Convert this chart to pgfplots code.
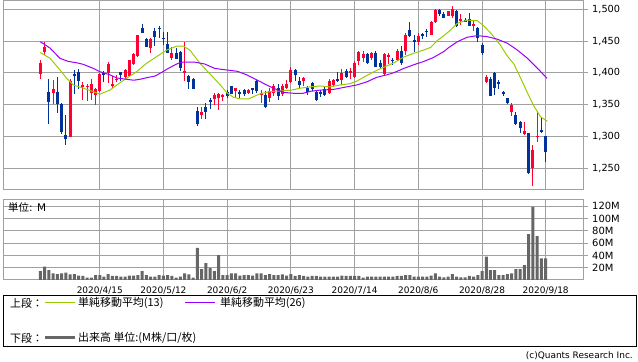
\documentclass[border=0pt]{standalone}
\usepackage{fontspec}
\setmainfont{DejaVu Sans}
\newfontfamily\jp{Noto Sans CJK JP}
\usepackage{pgfplots}
\usepackage{pgfplotstable}
\pgfplotsset{compat=1.18}
\definecolor{upc}{HTML}{FF0033}
\definecolor{dnc}{HTML}{003399}
\definecolor{maA}{HTML}{99CC00}
\definecolor{maB}{HTML}{9900FF}
\definecolor{gridc}{HTML}{A0A0A0}
\definecolor{volc}{HTML}{666666}

\pgfplotstableread{
i o h l c
0 1398 1420 1391 1416
1 1433 1448 1428 1440
2 1370 1390 1320 1355
3 1368 1389 1351 1375
4 1370 1393 1337 1351
5 1351 1352 1304 1307
6 1302 1334 1287 1296
7 1300 1390 1299 1387
8 1398 1405 1367 1395
9 1401 1406 1374 1388
10 1378 1386 1357 1381
11 1378 1383 1356 1380
12 1368 1390 1358 1383
13 1366 1377 1349 1374
14 1371 1400 1370 1399
15 1400 1403 1385 1398
16 1400 1417 1384 1414
17 1380 1395 1377 1383
18 1389 1397 1385 1391
19 1401 1402 1387 1397
20 1394 1406 1390 1405
21 1395 1421 1393 1420
22 1414 1431 1412 1430
23 1426 1459 1425 1459
24 1471 1477 1462 1463
25 1454 1455 1440 1441
26 1439 1455 1432 1454
27 1466 1470 1443 1456
28 1471 1473 1455 1470
29 1455 1465 1444 1454
30 1445 1464 1431 1432
31 1423 1441 1420 1432
32 1431 1439 1422 1422
33 1433 1435 1403 1407
34 1401 1449 1388 1403
35 1395 1396 1375 1386
36 1391 1392 1375 1375
37 1340 1346 1316 1319
38 1334 1346 1327 1339
39 1347 1352 1328 1339
40 1357 1361 1344 1355
41 1359 1368 1350 1365
42 1360 1368 1342 1367
43 1363 1367 1356 1366
44 1370 1373 1361 1363
45 1380 1380 1367 1367
46 1371 1377 1360 1376
47 1370 1373 1360 1367
48 1373 1375 1364 1367
49 1368 1375 1367 1373
50 1376 1376 1367 1373
51 1388 1389 1369 1372
52 1365 1373 1353 1369
53 1365 1371 1345 1346
54 1361 1377 1355 1372
55 1369 1382 1363 1380
56 1376 1383 1358 1363
57 1367 1383 1364 1380
58 1376 1389 1374 1382
59 1386 1410 1384 1404
60 1404 1406 1388 1396
61 1387 1393 1374 1381
62 1387 1393 1380 1392
63 1376 1380 1366 1370
64 1384 1386 1371 1374
65 1370 1373 1356 1358
66 1370 1373 1362 1367
67 1374 1379 1364 1365
68 1368 1391 1367 1388
69 1381 1390 1378 1389
70 1390 1401 1386 1387
71 1389 1406 1381 1400
72 1403 1406 1392 1393
73 1401 1407 1391 1403
74 1393 1418 1392 1416
75 1418 1435 1413 1433
76 1424 1434 1417 1430
77 1429 1432 1414 1415
78 1424 1433 1421 1432
79 1432 1435 1409 1410
80 1416 1420 1406 1410
81 1398 1432 1397 1430
82 1425 1432 1414 1428
83 1421 1424 1413 1419
84 1420 1438 1419 1435
85 1435 1442 1413 1416
86 1435 1462 1428 1460
87 1467 1480 1457 1458
88 1451 1460 1433 1449
89 1448 1462 1444 1458
90 1461 1463 1453 1458
91 1466 1469 1457 1465
92 1460 1482 1459 1480
93 1480 1500 1479 1499
94 1499 1500 1490 1493
95 1492 1496 1487 1487
96 1490 1498 1489 1497
97 1490 1505 1487 1501
98 1497 1499 1472 1473
99 1482 1493 1475 1484
100 1483 1487 1480 1481
101 1485 1494 1474 1474
102 1475 1482 1466 1476
103 1471 1472 1448 1455
104 1444 1447 1428 1432
105 1385 1397 1384 1394
106 1391 1394 1363 1364
107 1400 1401 1366 1376
108 1386 1389 1374 1383
109 1370 1372 1363 1367
110 1360 1361 1351 1353
111 1339 1352 1332 1350
112 1334 1338 1318 1320
113 1323 1324 1306 1313
114 1304 1323 1303 1308
115 1305 1306 1241 1242
116 1250 1286 1222 1279
117 1300 1340 1292 1301
118 1310 1329 1305 1307
119 1301 1301 1260 1276
}\candles

\pgfplotstableread{
i v
0 14.6
1 21.6
2 16.2
3 10.8
4 9.7
5 10.8
6 11.9
7 9.2
8 9.7
9 7
10 6.5
11 3.8
12 3.8
13 8.1
14 8.1
15 5.4
16 9.7
17 6.5
18 6.5
19 5.4
20 5.4
21 7
22 7
23 8.1
24 14.6
25 8.1
26 5.4
27 5.4
28 8.1
29 7
30 8.1
31 6.5
32 3.8
33 5.4
34 10.8
35 9.2
36 3.8
37 52.4
38 17.8
39 27.5
40 19.4
41 14.6
42 40.5
43 8.1
44 8.1
45 10.8
46 10.8
47 7
48 8.1
49 8.1
50 7
51 10.8
52 10.8
53 8.1
54 9.7
55 8.1
56 8.1
57 9.2
58 7
59 9.7
60 6.5
61 8.1
62 6.5
63 5.4
64 6.5
65 6.5
66 5.4
67 5.4
68 5.4
69 5.4
70 5.4
71 7
72 6.5
73 6.5
74 6.5
75 6.5
76 3.8
77 5.4
78 5.4
79 5.4
80 5.4
81 5.4
82 5.4
83 5.4
84 6.5
85 6.5
86 8.1
87 8.1
88 5.4
89 5.4
90 5.4
91 5.4
92 7
93 10.8
94 5.4
95 4.3
96 5.4
97 9.7
98 5.4
99 4.3
100 4.3
101 6.5
102 5.4
103 8.1
104 14.6
105 37.8
106 16.2
107 16.2
108 8.1
109 8.1
110 9.7
111 10.8
112 17.8
113 17.8
114 24.3
115 74.5
116 118.8
117 71.3
118 35
119 35
}\volume

\pgfplotsset{
  panel/.style={
    scale only axis, width=580bp,
    xmin=-8.78, xmax=127.78,
    axis line style={draw=gridc, line width=1bp},
    xmajorgrids, ymajorgrids,
    grid style={draw=gridc, line width=1bp},
    xtick={14,29,44,59,74,89,104,119},
    ytick pos=right, yticklabel pos=right,
    tick align=outside,
    major tick length=5bp,
    y tick style={draw=gridc, line width=1bp},
    x tick style={draw=none},
    /pgf/number format/assume math mode=true,
    yticklabel style={anchor=west, inner sep=0pt, xshift=4bp},
  }
}

\begin{document}
\begin{tikzpicture}
\useasboundingbox (0bp,0bp) rectangle (638bp,362bp);

% price panel
\begin{axis}[panel, at={(3bp,172bp)}, anchor=south west, height=189bp,
  ymin=1216, ymax=1513,
  ytick={1250,1300,1350,1400,1450,1500},
  xticklabels={},
  yticklabel style={font=\fontsize{9.8}{11}\selectfont},
  /pgf/number format/.cd, 1000 sep={,}]
  % wicks
  \addplot[draw=none, forget plot,
    restrict expr to domain={\thisrow{c}-\thisrow{o}}{0:1000},
    error bars/.cd, y dir=both, y explicit, error mark=none,
    error bar style={draw=upc, line width=1bp}]
    table[x=i, y expr={(\thisrow{h}+\thisrow{l})/2}, y error expr={(\thisrow{h}-\thisrow{l})/2}] {\candles};
  \addplot[draw=none, forget plot,
    restrict expr to domain={\thisrow{c}-\thisrow{o}}{-1000:-0.01},
    error bars/.cd, y dir=both, y explicit, error mark=none,
    error bar style={draw=dnc, line width=1bp}]
    table[x=i, y expr={(\thisrow{h}+\thisrow{l})/2}, y error expr={(\thisrow{h}-\thisrow{l})/2}] {\candles};
  % bodies
  \addplot[draw=none, forget plot,
    restrict expr to domain={\thisrow{c}-\thisrow{o}}{0:1000},
    error bars/.cd, y dir=both, y explicit, error mark=none,
    error bar style={draw=upc, line width=3bp}]
    table[x=i, y expr={(\thisrow{o}+\thisrow{c})/2}, y error expr={max(abs(\thisrow{c}-\thisrow{o})/2,0.8)}] {\candles};
  \addplot[draw=none, forget plot,
    restrict expr to domain={\thisrow{c}-\thisrow{o}}{-1000:-0.01},
    error bars/.cd, y dir=both, y explicit, error mark=none,
    error bar style={draw=dnc, line width=3bp}]
    table[x=i, y expr={(\thisrow{o}+\thisrow{c})/2}, y error expr={max(abs(\thisrow{c}-\thisrow{o})/2,0.8)}] {\candles};
  % SMA 13
  \addplot[maA, line width=1bp] coordinates {
  (0,1432) (2.3,1423) (4.6,1405) (6.2,1391.5) (7.8,1381) (10.1,1376) (12.5,1370.6) (14,1366.5)
  (16.4,1373) (18,1381) (20.3,1391.5) (22.7,1402) (25,1415) (27.4,1425.6) (29.8,1436) (32.1,1442)
  (33.7,1442) (35.2,1436) (36.8,1422) (37.6,1415) (40,1398) (42.4,1381) (43.9,1369) (45.4,1362)
  (47,1359) (49,1359) (50.2,1362.7) (51.7,1367) (54.1,1370.6) (56.4,1371.6) (58.8,1372.5) (61.2,1376)
  (63.5,1378) (65.9,1379.5) (68.2,1378) (70.6,1381) (72.9,1383) (74.5,1387) (76.9,1396) (79.2,1404)
  (81.6,1411) (83.3,1416) (85.6,1425) (88,1431) (90.3,1436) (91.9,1440) (93.5,1451) (95.1,1459)
  (96.2,1465) (98.2,1478) (100.5,1483) (102.9,1482) (104.4,1474) (106,1463) (108.3,1444) (109.9,1427)
  (111.5,1414) (113.1,1392) (114.6,1370) (116.2,1348) (117.8,1331) (119.4,1324)};
  % SMA 26
  \addplot[maB, line width=1bp] coordinates {
  (0,1449) (2.3,1439) (4.6,1423) (6.6,1418) (8.5,1416) (10.1,1413.5) (12.5,1407) (14,1402)
  (16.4,1397) (18,1392) (20.3,1390) (22,1388.5) (23.5,1390) (25.4,1393) (27,1395) (28.9,1402)
  (30.1,1407) (32.4,1415) (33.6,1417) (36.3,1417) (38.7,1414) (41.1,1407) (43.4,1405) (46.4,1402.5)
  (48.6,1397) (51,1389) (53.3,1381) (54.9,1376) (57.2,1369.5) (59.6,1368) (61.9,1368) (63.5,1371)
  (65.9,1373) (69,1374) (72.1,1378) (74.5,1381) (76.9,1386) (79.2,1393) (81.6,1397) (83.1,1400)
  (85.6,1407) (88,1413) (90.3,1418) (92.5,1424) (95.1,1434) (96.2,1440) (98.2,1449) (100.5,1456)
  (102.9,1458.6) (105.2,1457) (107.6,1453) (110,1446.5) (112.3,1436) (114.7,1423) (117.1,1407) (119.3,1391.5)};
\end{axis}

% volume panel
\begin{axis}[panel, at={(3bp,82bp)}, anchor=south west, height=80bp,
  ymin=0, ymax=130,
  ytick={20,40,60,80,100,120},
  yticklabel={\pgfmathprintnumber{\tick}M},
  yticklabel style={font=\fontsize{10}{12}\selectfont},
  xticklabels={2020/4/15,2020/5/12,2020/6/2,2020/6/23,2020/7/14,2020/8/6,2020/8/28,2020/9/18},
  xticklabel style={font=\fontsize{9}{10}\selectfont, inner sep=0pt, yshift=-1.5bp}]
  \addplot[ybar, bar width=3bp, fill=volc, draw=none] table[x=i, y=v] {\volume};
\end{axis}
\node[anchor=west, font=\fontsize{10.5}{12}\selectfont, inner sep=0pt] at (8bp,154bp) {{\jp 単位}: M};

% legend box
\draw[black, line width=1bp] (3bp,15bp) rectangle (636bp,66bp);
\node[anchor=west, inner sep=0pt, font=\fontsize{11}{13}\selectfont\jp] at (10bp,59bp) {上段：};
\draw[maA, line width=1bp] (45bp,59bp) -- (75bp,59bp);
\node[anchor=west, inner sep=0pt, font=\fontsize{11}{13}\selectfont\jp] at (78bp,59bp) {単純移動平均(13)};
\draw[maB, line width=1bp] (185bp,59bp) -- (215bp,59bp);
\node[anchor=west, inner sep=0pt, font=\fontsize{11}{13}\selectfont\jp] at (220bp,59bp) {単純移動平均(26)};
\node[anchor=west, inner sep=0pt, font=\fontsize{11}{13}\selectfont\jp] at (10bp,24bp) {下段：};
\draw[volc, line width=3bp] (45bp,24bp) -- (75bp,24bp);
\node[anchor=west, inner sep=0pt, font=\fontsize{11}{13}\selectfont\jp] at (78bp,24bp) {出来高 単位:(M株/口/枚)};
\node[anchor=east, inner sep=0pt, font=\fontsize{9}{11}\selectfont] at (633bp,6bp) {(c)Quants Research Inc.};
\end{tikzpicture}
\end{document}
